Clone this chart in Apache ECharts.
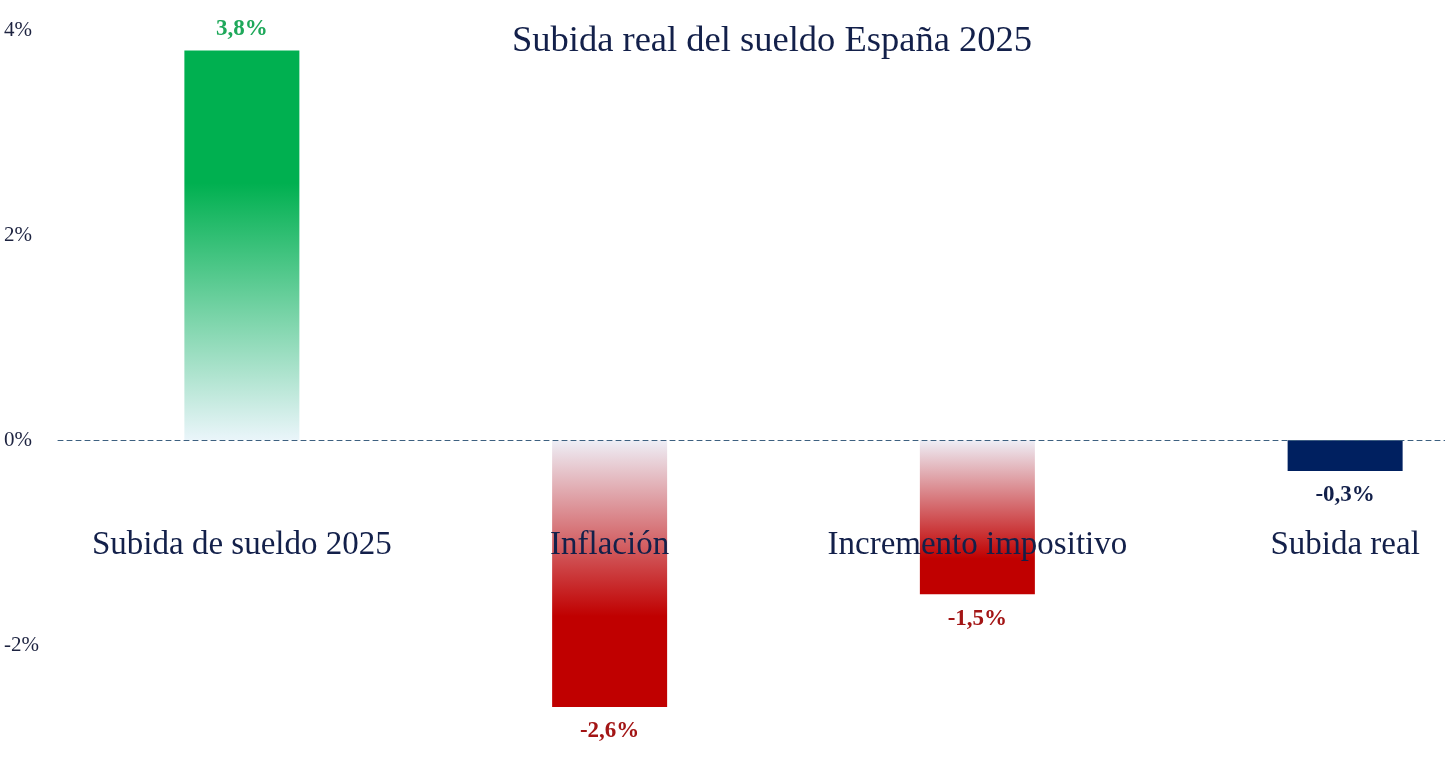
<!DOCTYPE html>
<html>
<head>
<meta charset="utf-8">
<title>Subida real del sueldo España 2025</title>
<script src="https://cdn.jsdelivr.net/npm/echarts@6/dist/echarts.min.js"></script>
<style>
  html, body { margin: 0; padding: 0; background: #fff; }
  #chart { width: 1445px; height: 780px; }
</style>
</head>
<body>
<div id="chart"></div>
<script>
// datos
var categorias = ['Subida de sueldo 2025', 'Inflación', 'Incremento impositivo', 'Subida real'];
var valores = [3.8, -2.6, -1.5, -0.3];
var ejeMin = -3, ejeMax = 4, ejePaso = 1;
var ticksVisibles = [4, 2, 0, -2];

(function () {
  'use strict';

  function grad(stops) {
    return new echarts.graphic.LinearGradient(0, 0, 0, 1, stops);
  }

  // estilo por barra (color del relleno y de la etiqueta)
  var estilos = [
    { fill: grad([{ offset: 0, color: '#00b050' }, { offset: 0.34, color: '#00b050' }, { offset: 1, color: '#eaf5fa' }]), text: '#1ea85a' },
    { fill: grad([{ offset: 0, color: '#eeeef6' }, { offset: 0.66, color: '#c00000' }, { offset: 1, color: '#c00000' }]), text: '#a31515' },
    { fill: grad([{ offset: 0, color: '#eeeef6' }, { offset: 0.77, color: '#c00000' }, { offset: 1, color: '#c00000' }]), text: '#a31515' },
    { fill: '#002060', text: '#13204a' }
  ];

  var serie = valores.map(function (v, i) {
    return {
      value: v,
      itemStyle: { color: estilos[i].fill },
      label: {
        position: v < 0 ? 'bottom' : 'top',
        distance: v < 0 ? 13 : 10,
        color: estilos[i].text
      }
    };
  });

  var chart = echarts.init(document.getElementById('chart'));
  chart.setOption({
    animation: false,
    backgroundColor: '#ffffff',
    title: {
      text: 'Subida real del sueldo España 2025',
      left: 767,
      textAlign: 'center',
      top: 18,
      textStyle: {
        fontFamily: 'Liberation Serif',
        fontWeight: 'normal',
        fontSize: 36.5,
        color: '#13204a'
      }
    },
    grid: { left: 58, right: -84, top: 30, bottom: 32, containLabel: false, outerBoundsMode: 'none' },
    xAxis: {
      type: 'category',
      data: categorias,
      z: 5,
      axisTick: { show: false },
      axisLine: {
        onZero: true,
        lineStyle: { color: '#3d6080', type: [5, 4], width: 1 }
      },
      axisLabel: {
        margin: -219,
        fontFamily: 'Liberation Serif',
        fontSize: 33,
        color: '#13204a',
        interval: 0
      }
    },
    yAxis: {
      type: 'value',
      min: ejeMin,
      max: ejeMax,
      interval: ejePaso,
      splitLine: { show: false },
      axisLine: { show: false },
      axisTick: { show: false },
      axisLabel: {
        align: 'left',
        margin: 54,
        fontFamily: 'Liberation Serif',
        fontSize: 21,
        color: '#1d2340',
        formatter: function (v) {
          return ticksVisibles.indexOf(v) >= 0 ? v + '%' : '';
        }
      }
    },
    series: [{
      type: 'bar',
      data: serie,
      barWidth: 115,
      label: {
        show: true,
        fontFamily: 'Liberation Serif',
        fontWeight: 'bold',
        fontSize: 23,
        formatter: function (p) {
          return String(p.value).replace('.', ',') + '%';
        }
      }
    }]
  });
}());
</script>
</body>
</html>
